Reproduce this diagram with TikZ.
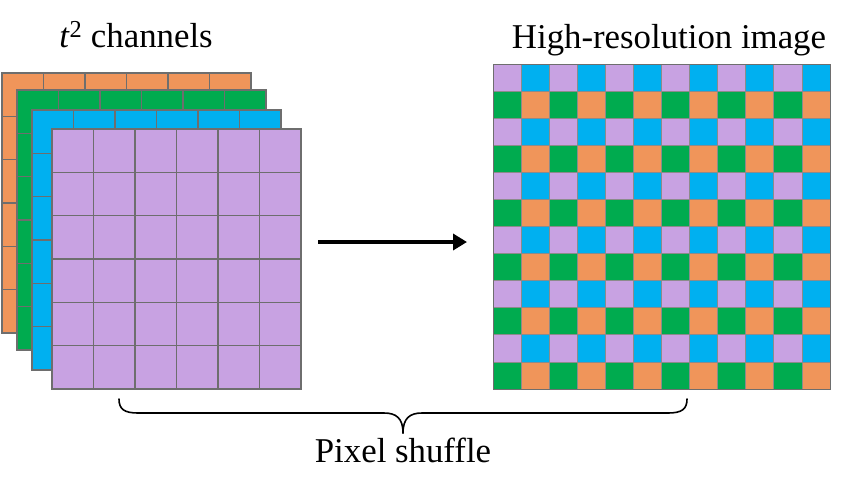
\documentclass[tikz,border=0pt]{standalone}
\usepackage{fontspec}
\setmainfont{Liberation Serif}
\usetikzlibrary{arrows.meta}
\definecolor{corange}{RGB}{240,149,90}
\definecolor{cgreen}{RGB}{0,171,79}
\definecolor{cblue}{RGB}{0,176,240}
\definecolor{cpurple}{RGB}{200,162,226}
\definecolor{cline}{RGB}{110,110,110}
\newcommand{\drawchan}[4]{% x y colour name
  \node[layerbox, fill=#3, minimum width=249pt, minimum height=260pt] (#4) at (#1+124.5,#2+130) {};
  \foreach \k in {1,...,5}{
    \draw[cellline] (#1+\k*41.5,#2) -- (#1+\k*41.5,#2+260);
    \draw[cellline] (#1,#2+\k*43.333) -- (#1+249,#2+\k*43.333);
  }
}
\begin{document}
\begin{tikzpicture}[x=1pt,y=-1pt,
  layerbox/.style={draw=cline, line width=1.1pt, inner sep=0pt, outer sep=0pt},
  cellline/.style={draw=cline, line width=1.1pt},
  hrcell/.style={draw=cline!80, line width=0.7pt},
  label/.style={font=\fontsize{34.8}{40}\selectfont, anchor=base, inner sep=0pt},
  shufflearrow/.style={line width=4.5pt, -{Triangle[length=14pt,width=16pt]}},
  bracepath/.style={line width=1.6pt, black, line cap=round, line join=round}
]
\useasboundingbox (0,0) rectangle (850,493);
\fill[white] (0,0) rectangle (850,493);

% stacked channels
\drawchan{2}{73}{corange}{chA}
\drawchan{17}{90}{cgreen}{chB}
\drawchan{32}{110}{cblue}{chC}
\drawchan{52}{129}{cpurple}{chD}

% high-resolution image
\foreach \i in {0,...,11}{
  \foreach \j in {0,...,11}{
    \pgfmathtruncatemacro{\ri}{mod(\i,2)}
    \pgfmathtruncatemacro{\rj}{mod(\j,2)}
    \ifnum\rj=0
      \ifnum\ri=0 \def\cc{cpurple}\else\def\cc{cblue}\fi
    \else
      \ifnum\ri=0 \def\cc{cgreen}\else\def\cc{corange}\fi
    \fi
    \fill[\cc] (493+\i*28.083,64+\j*27.083) rectangle ++(28.083,27.083);
    \draw[hrcell] (493+\i*28.083,64+\j*27.083) rectangle ++(28.083,27.083);
  }
}
\node[draw=cline, line width=1pt, minimum width=337pt, minimum height=325pt, inner sep=0pt, outer sep=0pt] (hr) at (661.5,226.5) {};

% arrow
\coordinate (arrS) at (318,242);
\coordinate (arrE) at (467,242);
\draw[shufflearrow] (arrS) -- (arrE);

% labels
\node[label] (tch) at (136,47) {\textit{t}\textsuperscript{2} channels};
\node[label] (hrl) at (669,48) {High-resolution image};
\node[label] (ps) at (403,462) {Pixel shuffle};

% brace
\coordinate (bL) at (119,399);
\coordinate (bR) at (687,399);
\coordinate (bT) at (403,433);
\draw[bracepath] (bL) .. controls (119,409) and (124,413) .. (138,413)
  -- (384,413) .. controls (396,413) and (403,418) .. (bT);
\draw[bracepath] (bR) .. controls (687,409) and (682,413) .. (668,413)
  -- (422,413) .. controls (410,413) and (403,418) .. (bT);
\end{tikzpicture}
\end{document}
